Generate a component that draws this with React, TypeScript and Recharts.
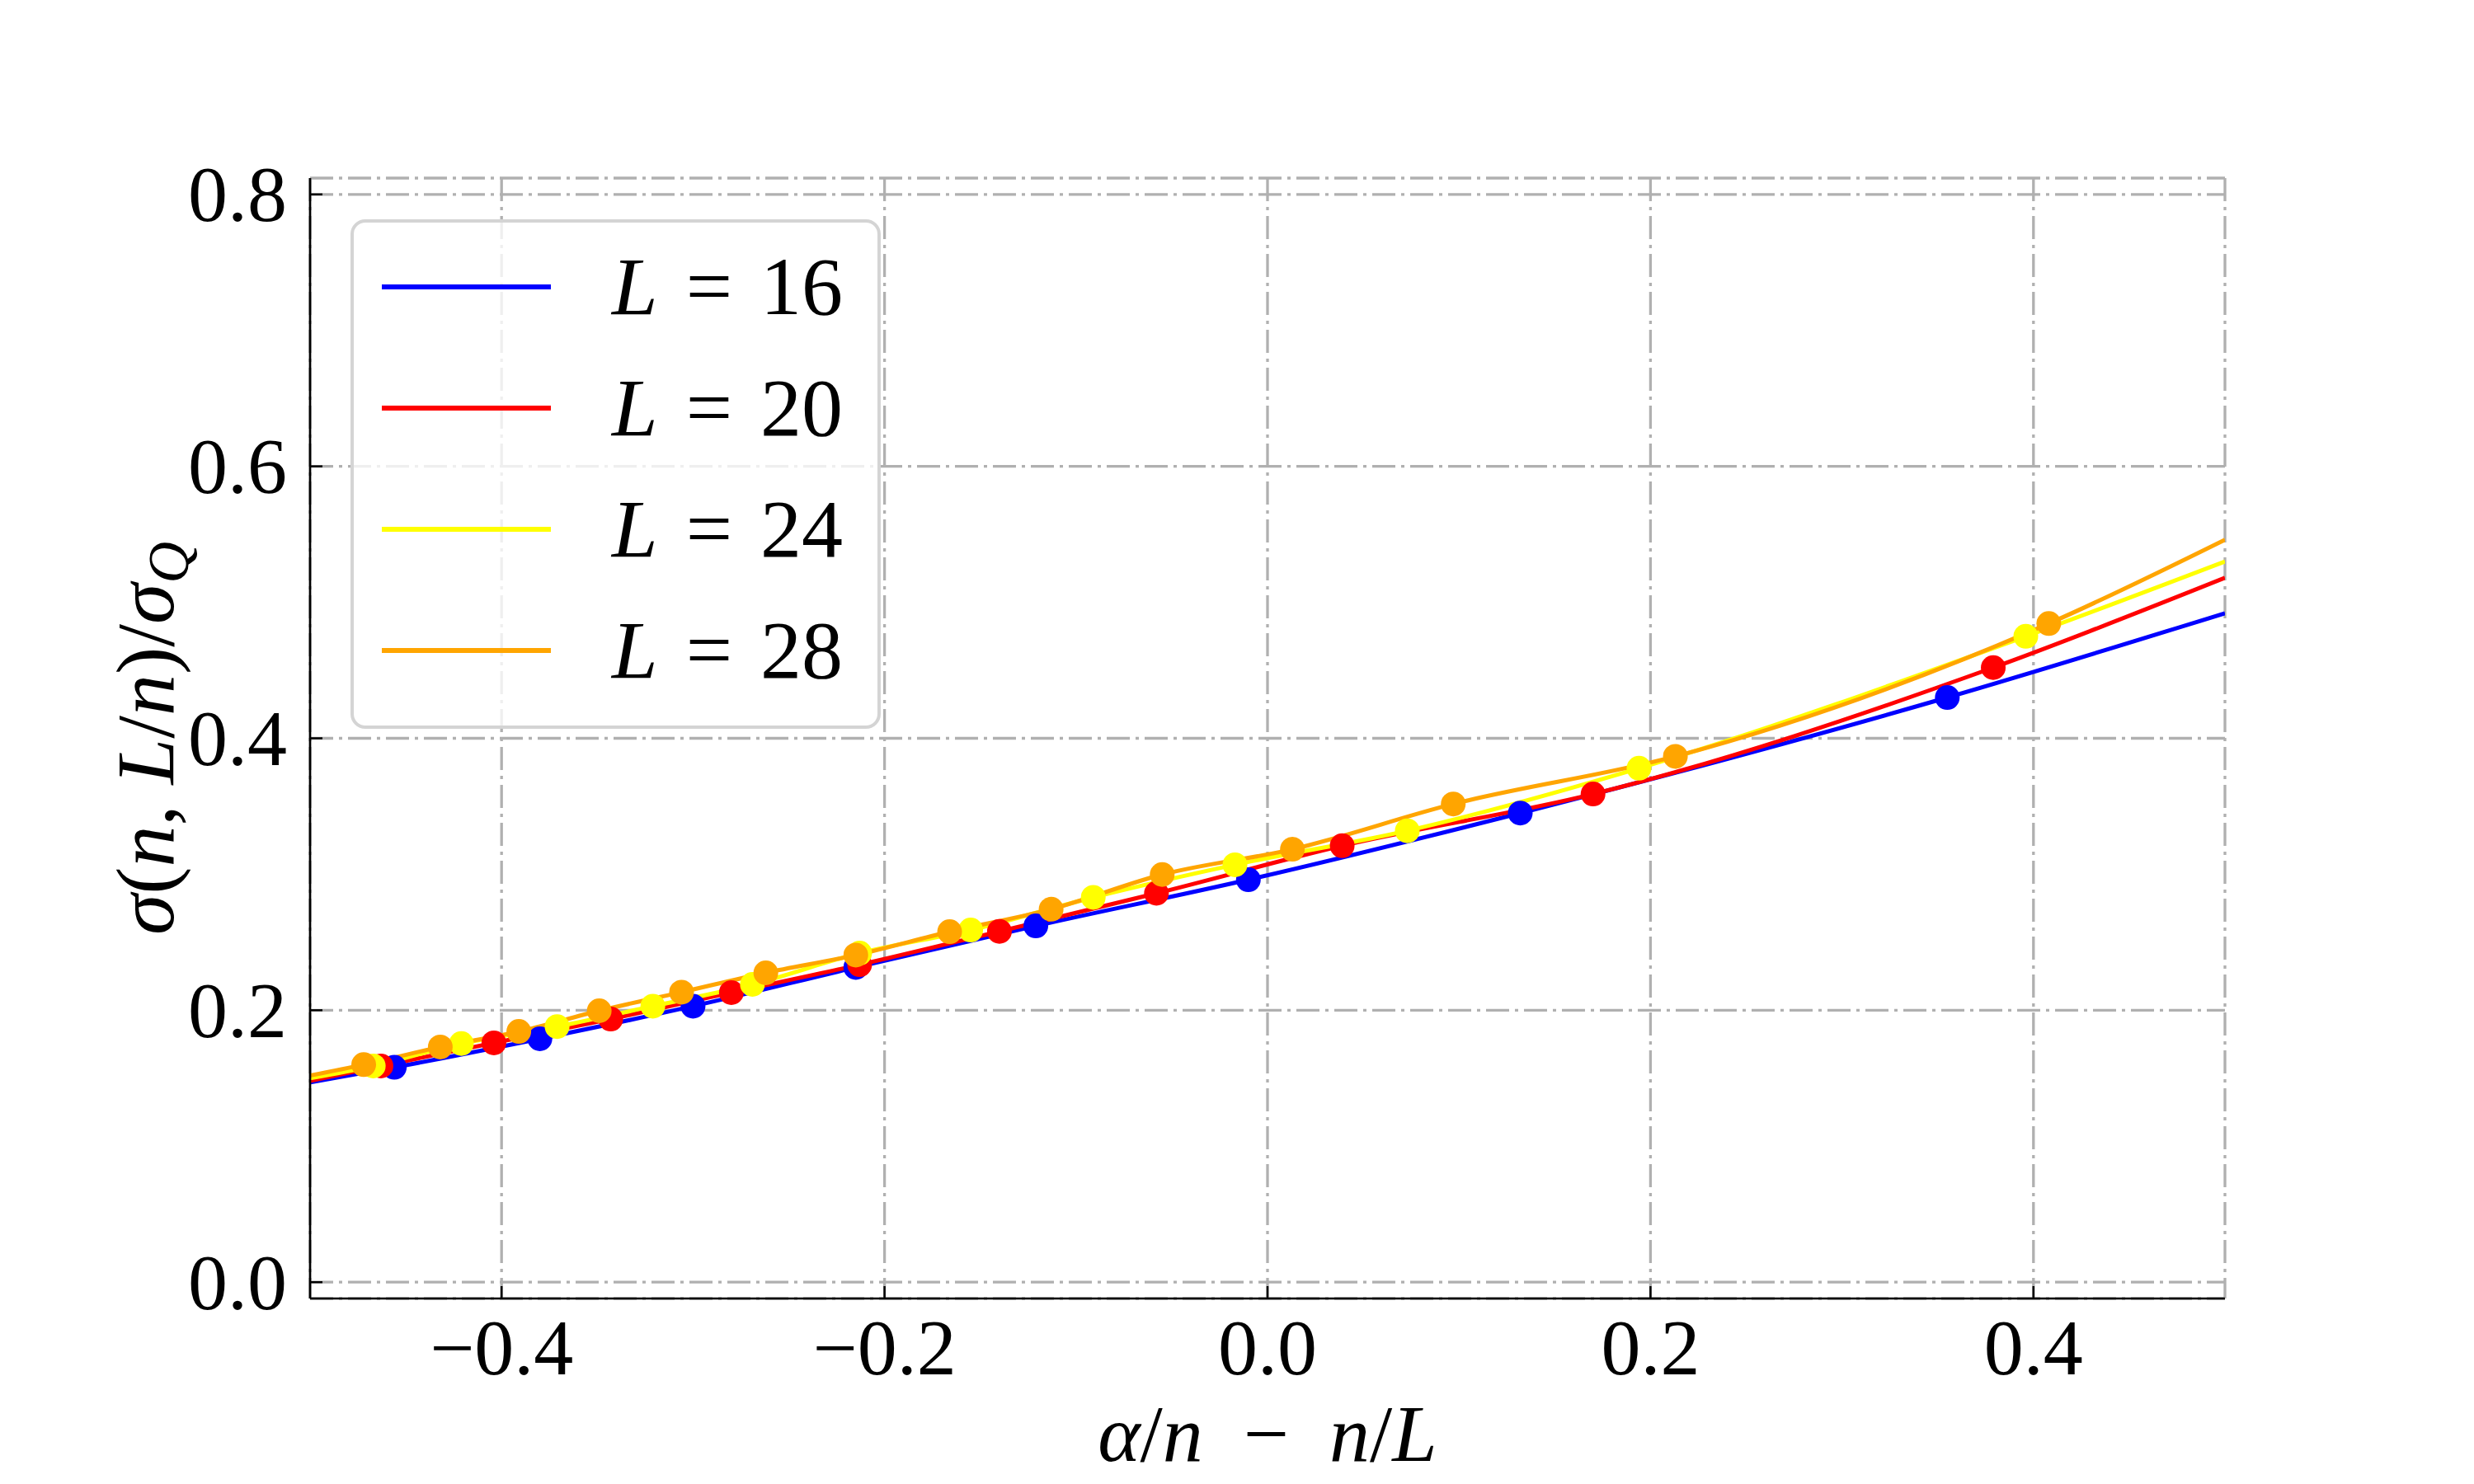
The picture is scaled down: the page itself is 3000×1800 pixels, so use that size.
import {
  CartesianGrid,
  ComposedChart,
  Legend,
  Line,
  Scatter,
  XAxis,
  YAxis,
} from "recharts";

// axes
const xTicks = [-0.4, -0.2, 0.0, 0.2, 0.4];
const yTicks = [0.0, 0.2, 0.4, 0.6, 0.8];
const xDomain = [-0.5, 0.5];
const yDomain = [-0.012, 0.812];

// L = 16
const x16 = [-0.456, -0.38, -0.3, -0.215, -0.121, -0.01, 0.132, 0.355];
const y16 = [0.158, 0.179, 0.203, 0.2315, 0.262, 0.296, 0.345, 0.43];
const ends16 = [0.147, 0.492];

// L = 20
const x20 = [-0.463, -0.404, -0.343, -0.28, -0.213, -0.14, -0.058, 0.039, 0.17, 0.379];
const y20 = [0.159, 0.176, 0.1935, 0.213, 0.2335, 0.258, 0.286, 0.321, 0.359, 0.452];
const ends20 = [0.148, 0.518];

// L = 24
const x24 = [-0.467, -0.421, -0.371, -0.321, -0.269, -0.213, -0.155, -0.091, -0.017, 0.073, 0.194, 0.396];
const y24 = [0.159, 0.1755, 0.188, 0.203, 0.219, 0.242, 0.259, 0.283, 0.307, 0.332, 0.378, 0.475];
const ends24 = [0.15, 0.53];

// L = 28
const x28 = [-0.472, -0.432, -0.391, -0.349, -0.306, -0.262, -0.215, -0.166, -0.113, -0.055, 0.013, 0.097, 0.213, 0.408];
const y28 = [0.16, 0.173, 0.1844, 0.1996, 0.2133, 0.2275, 0.2406, 0.2578, 0.2743, 0.2998, 0.3184, 0.3517, 0.3867, 0.4844];
const ends28 = [0.152, 0.546];

const sizes = [16, 20, 24, 28];
const colors = ["#0000ff", "#ff0000", "#ffff00", "#ffa500"];

const W = 3000;
const H = 1800;
const PLOT_LEFT = 376;
const PLOT_TOP = 216;
const PLOT_RIGHT = 2698;
const PLOT_BOTTOM = 1575;
const SERIF = "'Liberation Serif', 'DejaVu Serif', serif";
const FS = 96;

const toPoints = (xs: number[], ys: number[]) => xs.map((x, i) => ({ x, y: ys[i] }));

const series = [
  { xs: x16, ys: y16, ends: ends16 },
  { xs: x20, ys: y20, ends: ends20 },
  { xs: x24, ys: y24, ends: ends24 },
  { xs: x28, ys: y28, ends: ends28 },
].map((s, i) => {
  const pts = toPoints(s.xs, s.ys);
  return {
    name: `L = ${sizes[i]}`,
    L: sizes[i],
    color: colors[i],
    points: pts,
    curve: [{ x: xDomain[0], y: s.ends[0] }, ...pts, { x: xDomain[1], y: s.ends[1] }],
  };
});

const fmt = (v: number) => v.toFixed(1).replace("-", "\u2212");

function XTick({ x, payload }: any) {
  return (
    <text x={x} y={PLOT_BOTTOM + 92} textAnchor="middle" fontFamily={SERIF} fontSize={FS} fill="#000">
      {fmt(payload.value)}
    </text>
  );
}

function YTick({ y, payload }: any) {
  return (
    <text x={PLOT_LEFT - 28} y={y} dy="0.34em" textAnchor="end" fontFamily={SERIF} fontSize={FS} fill="#000">
      {fmt(payload.value)}
    </text>
  );
}

const it = { fontStyle: "italic" as const };

function YLabel() {
  const cx = 180;
  const cy = (PLOT_TOP + PLOT_BOTTOM) / 2;
  return (
    <text
      transform={`translate(${cx},${cy}) rotate(-90)`}
      textAnchor="middle"
      dy="0.3em"
      fontFamily={SERIF}
      fontSize={100}
      fill="#000"
    >
      <tspan style={it}>σ</tspan>
      <tspan>(</tspan>
      <tspan style={it}>n</tspan>
      <tspan>, </tspan>
      <tspan style={it}>L</tspan>
      <tspan>/</tspan>
      <tspan style={it}>n</tspan>
      <tspan>)/</tspan>
      <tspan style={it}>σ</tspan>
      <tspan style={it} fontSize={70} dy="0.25em">Q</tspan>
    </text>
  );
}

function XLabel() {
  return (
    <text x={(PLOT_LEFT + PLOT_RIGHT) / 2} y={1772} textAnchor="middle" fontFamily={SERIF} fontSize={98} fill="#000">
      <tspan style={it}>α</tspan>
      <tspan>/</tspan>
      <tspan style={it}>n</tspan>
      <tspan>{"\u2002\u2212\u2002"}</tspan>
      <tspan style={it}>n</tspan>
      <tspan>/</tspan>
      <tspan style={it}>L</tspan>
    </text>
  );
}

function LegendBox() {
  return (
    <div
      style={{
        boxSizing: "border-box",
        width: "100%",
        height: "100%",
        border: "4px solid #d4d4d4",
        borderRadius: 18,
        background: "rgba(255,255,255,0.8)",
        paddingTop: 4,
        fontFamily: SERIF,
        fontSize: 100,
        color: "#000",
      }}
    >
      {series.map((s) => (
        <div key={s.L} style={{ height: 147, display: "flex", alignItems: "center" }}>
          <div style={{ marginLeft: 34, width: 205, height: 6, background: s.color }} />
          <div style={{ marginLeft: 74, lineHeight: 1, whiteSpace: "nowrap" }}>
            <span style={it}>L</span>
            <span style={{ margin: "0 34px" }}>=</span>
            <span>{s.L}</span>
          </div>
        </div>
      ))}
    </div>
  );
}

const dot = (color: string) => (props: any) => (
  <circle cx={props.cx} cy={props.cy} r={15} fill={color} />
);

export default function App() {
  return (
    <div style={{ position: "absolute", left: 0, top: 0, background: "#fff" }}>
      <ComposedChart
        width={W}
        height={H}
        margin={{ top: PLOT_TOP, right: W - PLOT_RIGHT, left: 0, bottom: 0 }}
      >
        <CartesianGrid stroke="#b0b0b0" strokeWidth={3.3} strokeDasharray="28 7 4 7" />
        <XAxis
          dataKey="x"
          type="number"
          domain={xDomain}
          ticks={xTicks}
          allowDataOverflow
          height={H - PLOT_BOTTOM}
          tick={XTick}
          tickSize={-15}
          tickLine={{ stroke: "#000", strokeWidth: 2.5 }}
          axisLine={{ stroke: "#000", strokeWidth: 2.7 }}
          label={XLabel}
        />
        <YAxis
          dataKey="y"
          type="number"
          domain={yDomain}
          ticks={yTicks}
          allowDataOverflow
          width={PLOT_LEFT}
          tick={YTick}
          tickSize={-15}
          tickLine={{ stroke: "#000", strokeWidth: 2.5 }}
          axisLine={{ stroke: "#000", strokeWidth: 2.7 }}
          label={YLabel}
        />
        <XAxis
          xAxisId="top"
          orientation="top"
          type="number"
          domain={xDomain}
          height={0}
          tick={false}
          tickLine={false}
          axisLine={{ stroke: "#000", strokeWidth: 2.7 }}
        />
        <YAxis
          yAxisId="right"
          orientation="right"
          type="number"
          domain={yDomain}
          width={0}
          tick={false}
          tickLine={false}
          axisLine={{ stroke: "#000", strokeWidth: 2.7 }}
        />
        {series.flatMap((s) => [
          <Scatter
            key={`p${s.L}`}
            data={s.points}
            dataKey="y"
            fill={s.color}
            shape={dot(s.color)}
            legendType="none"
            isAnimationActive={false}
          />,
          <Line
            key={`l${s.L}`}
            data={s.curve}
            dataKey="y"
            name={s.name}
            type="monotone"
            stroke={s.color}
            strokeWidth={5}
            dot={false}
            activeDot={false}
            isAnimationActive={false}
          />,
        ])}
        <Legend
          content={LegendBox}
          layout="vertical"
          align="center"
          verticalAlign="middle"
          wrapperStyle={{ left: 425, top: 266, width: 643, height: 618 }}
        />
      </ComposedChart>
    </div>
  );
}
